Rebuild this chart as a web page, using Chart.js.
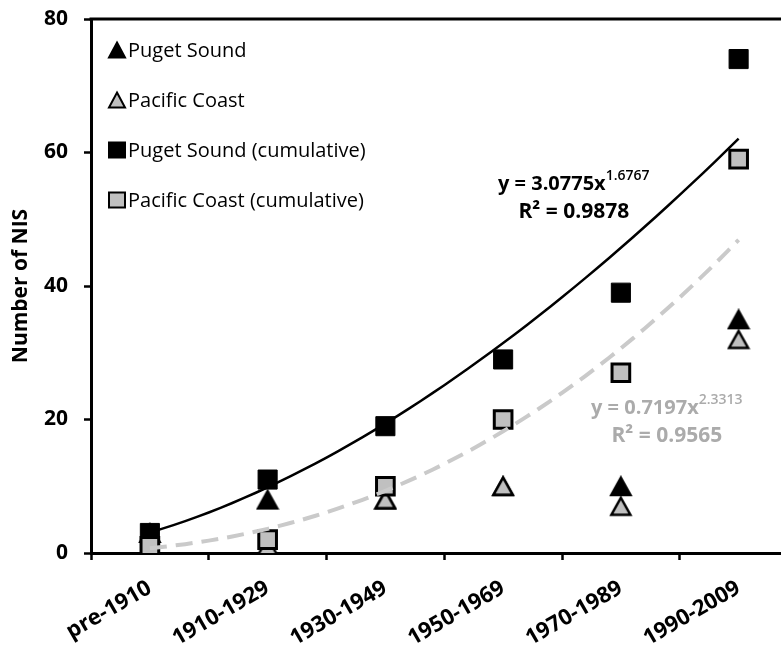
<!DOCTYPE html>
<html>
<head>
<meta charset="utf-8">
<script src="https://cdn.jsdelivr.net/npm/chart.js@4.4.0/dist/chart.umd.min.js"></script>
<style>
  html, body { margin: 0; padding: 0; background: #fff; overflow: hidden; }
  #nisChart { display: block; }
</style>
</head>
<body>
<canvas id="nisChart" width="813" height="645"></canvas>
<script>
'use strict';

var periods = ['pre-1910', '1910-1929', '1930-1949', '1950-1969', '1970-1989', '1990-2009'];
var pugetSound = [3, 8, 8, 10, 10, 35];
var pacificCoast = [1, 1, 8, 10, 7, 32];
var pugetCumulative = [3, 11, 19, 29, 39, 74];
var pacificCumulative = [1, 2, 10, 20, 27, 59];
var yTicks = [0, 20, 40, 60, 80];

// power trendlines on the cumulative counts: [a, b, R2] for y = a * x^b
var pugetFit = [3.0775, 1.6767, 0.9878];
var pacificFit = [0.7197, 2.3313, 0.9565];

var FONT = '"Open Sans", "Liberation Sans", sans-serif';
var GREY_FILL = '#c0c0c0';
var GREY_LINE = '#cacaca';
var GREY_TEXT = '#ababab';

function fitCurve(fit) {
  var pts = [];
  for (var i = 0; i <= 50; i++) {
    var x = 1 + i * 0.1;
    pts.push({ x: x, y: fit[0] * Math.pow(x, fit[1]) });
  }
  return pts;
}

function markerPath(ctx, shape, x, y, w, h) {
  ctx.beginPath();
  if (shape === 'triangle') {
    ctx.moveTo(x, y - h / 2);
    ctx.lineTo(x + w / 2, y + h / 2);
    ctx.lineTo(x - w / 2, y + h / 2);
    ctx.closePath();
  } else {
    ctx.rect(x - w / 2, y - h / 2, w, h);
  }
}

// triangle marker as a small canvas so it sits centred on the value
function triangleImage(fill, lw) {
  var c = document.createElement('canvas');
  c.width = 24;
  c.height = 22;
  var g = c.getContext('2d');
  g.lineJoin = 'miter';
  markerPath(g, 'triangle', 12, 11, 24 - lw * 2, 22 - lw * 2);
  g.fillStyle = fill;
  g.fill();
  g.lineWidth = lw;
  g.strokeStyle = '#000';
  g.stroke();
  return c;
}

function noPadding(scale) {
  scale.paddingLeft = 0;
  scale.paddingRight = 0;
  scale.paddingTop = 0;
  scale.paddingBottom = 0;
}

// legend sits inside the plot, top left
var insideLegend = {
  id: 'insideLegend',
  afterDraw: function (chart) {
    var ctx = chart.ctx;
    var area = chart.chartArea;
    var rows = chart.data.datasets.filter(function (d) { return d.legendShape; });
    ctx.save();
    ctx.font = '20px ' + FONT;
    ctx.textBaseline = 'middle';
    rows.forEach(function (d, i) {
      var y = area.top + 31 + i * 50;
      var x = area.left + 26;
      markerPath(ctx, d.legendShape, x, y, 16, 15);
      ctx.fillStyle = d.legendFill;
      ctx.fill();
      ctx.lineWidth = 2;
      ctx.strokeStyle = '#000';
      ctx.stroke();
      ctx.fillStyle = '#000';
      ctx.fillText(d.label, x + 11, y + 1);
    });
    ctx.restore();
  }
};

// trendline equations, frame top edge and the y title
var extras = {
  id: 'extras',
  afterDraw: function (chart, args, opts) {
    var ctx = chart.ctx;
    var area = chart.chartArea;
    var xs = chart.scales.xl;
    var ys = chart.scales.y;

    ctx.save();
    ctx.strokeStyle = '#000';
    ctx.lineWidth = 3;
    ctx.beginPath();
    ctx.moveTo(area.left - 1.5, area.top);
    ctx.lineTo(area.right, area.top);
    ctx.lineTo(area.right, area.bottom);
    ctx.stroke();

    opts.equations.forEach(function (eq) {
      var cx = xs.getPixelForValue(eq.x);
      var by = ys.getPixelForValue(eq.y);
      var main = 'y = ' + eq.fit[0].toFixed(4) + 'x';
      var sup = eq.fit[1].toFixed(4);
      var r2 = 'R\u00b2 = ' + eq.fit[2].toFixed(4);
      ctx.fillStyle = eq.color;
      ctx.textBaseline = 'alphabetic';
      ctx.font = 'bold 20px ' + FONT;
      var w1 = ctx.measureText(main).width;
      ctx.font = '600 14px ' + FONT;
      var w2 = ctx.measureText(sup).width;
      var left = cx - (w1 + w2) / 2;
      ctx.font = 'bold 20px ' + FONT;
      ctx.textAlign = 'left';
      ctx.fillText(main, left, by);
      ctx.font = '600 14px ' + FONT;
      ctx.fillText(sup, left + w1, by - 10);
      ctx.font = 'bold 21px ' + FONT;
      ctx.textAlign = 'center';
      ctx.fillText(r2, cx, by + 28);
    });

    ctx.translate(21, (area.top + area.bottom) / 2);
    ctx.rotate(-Math.PI / 2);
    ctx.font = 'bold 21px ' + FONT;
    ctx.fillStyle = '#000';
    ctx.textAlign = 'center';
    ctx.textBaseline = 'middle';
    ctx.fillText(opts.yTitle, 0, 0);
    ctx.restore();
  }
};

var chart = new Chart(document.getElementById('nisChart'), {
  type: 'line',
  data: {
    labels: periods,
    datasets: [
      {
        label: 'Puget Sound (trend)', data: fitCurve(pugetFit), xAxisID: 'xl',
        borderColor: '#000', borderWidth: 2.5, pointRadius: 0, order: 1
      },
      {
        label: 'Pacific Coast (trend)', data: fitCurve(pacificFit), xAxisID: 'xl',
        borderColor: GREY_LINE, borderWidth: 4, borderDash: [17, 9], pointRadius: 0, order: 2
      },
      {
        label: 'Puget Sound', data: pugetSound, showLine: false,
        legendShape: 'triangle', legendFill: '#000',
        pointStyle: triangleImage('#000', 2), order: 6
      },
      {
        label: 'Pacific Coast', data: pacificCoast, showLine: false,
        legendShape: 'triangle', legendFill: GREY_FILL,
        pointStyle: triangleImage(GREY_FILL, 2.5), order: 5
      },
      {
        label: 'Puget Sound (cumulative)', data: pugetCumulative, showLine: false,
        legendShape: 'rect', legendFill: '#000',
        pointStyle: 'rect', pointRadius: 13.5, backgroundColor: '#000',
        borderColor: '#000', borderWidth: 1, order: 4
      },
      {
        label: 'Pacific Coast (cumulative)', data: pacificCumulative, showLine: false,
        legendShape: 'rect', legendFill: GREY_FILL,
        pointStyle: 'rect', pointRadius: 12.5, backgroundColor: GREY_FILL,
        borderColor: '#000', borderWidth: 3, order: 3
      }
    ]
  },
  options: {
    responsive: false,
    animation: false,
    events: [],
    layout: { padding: { top: 19, right: 0, left: 0, bottom: 0 } },
    plugins: {
      legend: { display: false },
      tooltip: { enabled: false },
      extras: {
        yTitle: 'Number of NIS',
        equations: [
          { fit: pugetFit, x: 4.6, y: 54.4, color: '#000' },
          { fit: pacificFit, x: 5.39, y: 20.8, color: GREY_TEXT }
        ]
      }
    },
    scales: {
      x: {
        type: 'category',
        offset: true,
        grid: { offset: true, drawOnChartArea: false, tickLength: 7, tickWidth: 2.5, tickColor: '#000' },
        border: { color: '#000', width: 3 },
        ticks: { color: '#000', font: { family: FONT, size: 22, weight: 'bold' }, minRotation: 30, maxRotation: 30, padding: 15 },
        afterFit: function (scale) {
          scale.height = 92;
          noPadding(scale);
        }
      },
      xl: {
        type: 'linear', axis: 'x', display: false, min: 0.5, max: 6.5,
        ticks: { display: false },
        afterFit: noPadding
      },
      y: {
        min: 0, max: 80,
        grid: { drawOnChartArea: false, tickLength: 7, tickWidth: 2.5, tickColor: '#000' },
        border: { color: '#000', width: 3 },
        ticks: { color: '#000', font: { family: FONT, size: 21, weight: 'bold' }, padding: 16 },
        afterBuildTicks: function (axis) {
          axis.ticks = yTicks.map(function (v) { return { value: v }; });
        },
        afterFit: function (scale) {
          scale.width = 91;
          noPadding(scale);
        }
      }
    }
  },
  plugins: [insideLegend, extras]
});
</script>
</body>
</html>
